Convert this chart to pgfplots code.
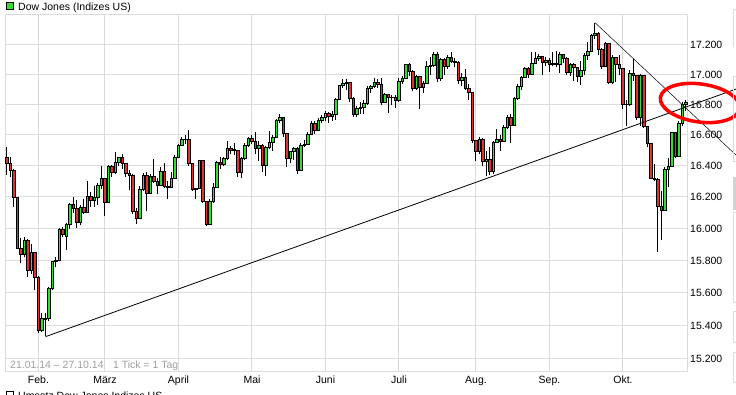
\documentclass[border=0pt]{standalone}
\usepackage{pgfplots}
\pgfplotsset{compat=1.18}
\usepackage{pgfplotstable}
\usepackage{fontspec}
\setmainfont{Liberation Sans}
\definecolor{cgreen}{RGB}{51,221,51}
\definecolor{cred}{RGB}{221,51,51}
\definecolor{gridc}{RGB}{220,220,220}
\newcommand\lblfont{\fontsize{10.5bp}{12bp}\selectfont}
\pgfplotstableread{
i o h l c
0 16458 16520 16340 16414
1 16414 16460 16330 16374
2 16374 16378 16140 16197
3 16197 16200 15875 15879
4 15879 15940 15784 15838
5 15838 15945 15820 15929
6 15929 15935 15700 15739
7 15739 15905 15720 15849
8 15849 15855 15618 15699
9 15699 15705 15356 15373
10 15373 15480 15360 15445
11 15443 15480 15340 15440
12 15443 15640 15430 15629
13 15630 15800 15620 15794
14 15794 15820 15760 15802
15 15802 16005 15795 15995
16 15995 16010 15947 15964
17 15950 16035 15865 16028
18 16028 16160 16000 16154
19 16154 16200 16100 16130
20 16130 16180 16005 16041
21 16041 16150 16020 16133
22 16133 16190 16090 16103
23 16103 16300 16100 16207
24 16207 16230 16140 16180
25 16180 16270 16140 16198
26 16198 16290 16150 16273
27 16273 16398 16250 16322
28 16322 16325 16082 16168
29 16168 16406 16168 16396
30 16396 16405 16330 16360
31 16360 16489 16350 16422
32 16422 16460 16400 16453
33 16453 16480 16380 16419
34 16419 16420 16330 16351
35 16351 16370 16248 16340
36 16340 16345 16090 16109
37 16109 16130 16030 16066
38 16066 16270 16060 16247
39 16247 16358 16240 16336
40 16336 16360 16110 16222
41 16222 16350 16220 16331
42 16331 16446 16290 16303
43 16303 16320 16220 16277
44 16277 16390 16270 16368
45 16368 16420 16260 16269
46 16269 16300 16190 16264
47 16264 16360 16260 16323
48 16323 16470 16320 16458
49 16458 16540 16450 16533
50 16533 16590 16530 16573
51 16573 16600 16540 16572
52 16573 16631 16400 16413
53 16413 16420 16240 16246
54 16246 16260 16190 16256
55 16256 16440 16250 16437
56 16437 16440 16165 16170
57 16170 16175 16015 16027
58 16027 16190 16020 16173
59 16173 16290 16165 16263
60 16263 16430 16260 16425
61 16425 16460 16380 16409
62 16409 16460 16400 16449
63 16449 16563 16440 16514
64 16514 16530 16480 16502
65 16502 16550 16470 16506
66 16502 16505 16330 16361
67 16361 16460 16320 16449
68 16449 16550 16440 16535
69 16535 16590 16520 16581
70 16581 16600 16540 16559
71 16559 16620 16480 16513
72 16513 16560 16430 16531
73 16531 16540 16360 16401
74 16401 16530 16334 16519
75 16519 16630 16510 16551
76 16551 16600 16500 16583
77 16583 16705 16580 16695
78 16695 16739 16680 16715
79 16715 16716 16590 16614
80 16614 16615 16392 16447
81 16447 16500 16420 16491
82 16491 16520 16440 16512
83 16512 16520 16348 16374
84 16374 16550 16370 16533
85 16533 16570 16520 16543
86 16543 16620 16540 16606
87 16606 16690 16600 16676
88 16676 16690 16610 16633
89 16633 16710 16630 16699
90 16699 16730 16680 16717
91 16717 16760 16690 16744
92 16744 16750 16680 16722
93 16722 16760 16690 16738
94 16738 16845 16700 16836
95 16836 16930 16830 16924
96 16924 16970 16910 16943
97 16943 16970 16900 16946
98 16946 16950 16820 16844
99 16844 16850 16720 16734
100 16734 16790 16720 16776
101 16776 16820 16740 16781
102 16781 16830 16740 16808
103 16808 16920 16800 16907
104 16907 16930 16880 16921
105 16921 16980 16910 16947
106 16947 16970 16910 16937
107 16937 16978 16800 16818
108 16818 16880 16810 16868
109 16868 16870 16744 16846
110 16846 16860 16800 16852
111 16852 16860 16780 16827
112 16827 16980 16820 16956
113 16956 16990 16940 16976
114 16976 17074 16970 17068
115 17068 17075 16990 17024
116 17024 17030 16890 16907
117 16907 17000 16900 16986
118 16986 16990 16771 16915
119 16915 16960 16880 16944
120 16944 17088 16940 17055
121 17055 17120 17000 17061
122 17061 17151 17050 17138
123 17138 17151 16950 16977
124 16977 17110 16960 17100
125 17100 17110 17000 17052
126 17052 17130 17040 17114
127 17114 17150 17080 17087
128 17087 17110 17050 17084
129 17084 17090 16940 16961
130 16961 17010 16920 16983
131 16983 17040 16900 16912
132 16912 16940 16830 16880
133 16880 16885 16550 16563
134 16563 16570 16432 16493
135 16493 16590 16480 16569
136 16569 16580 16400 16429
137 16429 16500 16333 16443
138 16443 16520 16340 16368
139 16368 16560 16350 16554
140 16554 16640 16550 16570
141 16570 16600 16500 16561
142 16561 16670 16555 16652
143 16652 16730 16640 16714
144 16714 16740 16550 16663
145 16663 16850 16660 16839
146 16839 16940 16830 16920
147 16920 16990 16900 16979
148 16979 17050 16975 17039
149 17039 17050 16980 17001
150 17001 17150 16995 17077
151 17077 17150 17070 17107
152 17107 17140 17090 17122
153 17122 17125 17000 17080
154 17080 17120 17060 17098
155 17098 17110 17020 17068
156 17068 17150 17060 17078
157 17078 17160 17050 17070
158 17070 17150 17010 17137
159 17137 17140 17080 17111
160 17111 17115 17000 17014
161 17014 17080 16990 17069
162 17069 17080 16960 17049
163 17049 17050 16950 16988
164 16988 17090 16930 17031
165 17031 17145 17000 17132
166 17132 17220 17100 17157
167 17157 17275 17150 17266
168 17266 17351 17240 17280
169 17280 17285 17130 17173
170 17173 17180 17040 17056
171 17056 17220 17050 17210
172 17210 17215 16940 16946
173 16946 17130 16940 17113
174 17113 17120 16950 17071
175 17071 17130 17000 17043
176 17043 17045 16770 16805
177 16805 16830 16660 16801
178 16801 17030 16790 17010
179 17010 17101 16960 16992
180 16992 17000 16700 16719
181 16719 17005 16660 16994
182 16994 17000 16650 16659
183 16659 16660 16520 16544
184 16544 16550 16320 16321
185 16321 16410 16300 16315
186 16315 16320 15855 16142
187 16142 16240 15930 16117
188 16117 16390 16110 16380
189 16380 16450 16266 16400
190 16400 16620 16395 16615
191 16615 16620 16450 16461
192 16461 16690 16460 16678
193 16678 16820 16660 16805
194 16805 16834 16760 16818
}\dji
\pgfplotstableread{
x y
11 15334
208.29 16903
}\trendA
\pgfplotstableread{
x y
168 17352
208.29 16470
}\trendB
\begin{document}
\begin{tikzpicture}
\begin{axis}[
  at={(5bp,23bp)}, anchor=south west,
  scale only axis, width=682bp, height=357bp,
  xmin=-0.571, xmax=194.29, ymin=9.623905, ymax=9.764339,
  clip=false,
  axis line style={draw=gridc, line width=1bp},
  grid=major, grid style={draw=gridc, line width=1bp},
  major tick length=0pt, minor tick num=0,
  xtick={9,28,49,70,91,112,134,155,176},
  xticklabels={Feb.,März,April,Mai,Juni,Juli,Aug.,Sep.,Okt.},
  % logarithmic price scale: ticks at ln(15200), ln(15400), ..., ln(17200)
  ytick={9.629051,9.642123,9.655026,9.667766,9.680344,9.692767,9.705037,9.717158,9.729134,9.740969,9.752664},
  yticklabels={15.200,15.400,15.600,15.800,16.000,16.200,16.400,16.600,16.800,17.000,17.200},
  yticklabel pos=right,
  yticklabel style={anchor=west, inner sep=0pt, xshift=3bp, font=\lblfont},
  xticklabel style={anchor=base, inner sep=0pt, yshift=-11.3bp, font=\lblfont},
]
\pgfplotsinvokeforeach{0,...,194}{
  \pgfplotstablegetelem{#1}{o}\of\dji \edef\cO{\pgfplotsretval}
  \pgfplotstablegetelem{#1}{h}\of\dji \edef\cH{\pgfplotsretval}
  \pgfplotstablegetelem{#1}{l}\of\dji \edef\cL{\pgfplotsretval}
  \pgfplotstablegetelem{#1}{c}\of\dji \edef\cC{\pgfplotsretval}
  \ifnum\cC<\cO\relax \def\ccol{cred}\else\def\ccol{cgreen}\fi
  \begingroup
    \pgfkeys{/pgf/fpu=true,/pgf/fpu/output format=fixed}%
    \pgfmathparse{ln(\cO)}\xdef\yO{\pgfmathresult}%
    \pgfmathparse{ln(\cH)}\xdef\yH{\pgfmathresult}%
    \pgfmathparse{ln(\cL)}\xdef\yL{\pgfmathresult}%
    \pgfmathparse{ln(\cC)}\xdef\yC{\pgfmathresult}%
  \endgroup
  \pgfmathsetmacro\xa{#1-0.36}%
  \pgfmathsetmacro\xb{#1+0.36}%
  \edef\temp{%
    \noexpand\addplot[black, line width=1bp, forget plot] coordinates {(#1,\yL) (#1,\yH)};
    \noexpand\addplot[draw=black, line width=0.8bp, fill=\ccol, forget plot] coordinates {(\xa,\yO) (\xb,\yO) (\xb,\yC) (\xa,\yC)} -- cycle;
  }%
  \temp
}
% trend lines
\addplot[black, line width=0.8bp, forget plot] table[x=x, y expr={ln(\thisrow{y})}] {\trendA};
\addplot[black, line width=0.5bp, forget plot] table[x=x, y expr={ln(\thisrow{y})}] {\trendB};
\end{axis}
% legend and texts
\draw[fill=cgreen, draw=black, line width=0.8bp] (6.5bp,385.5bp) rectangle (13.5bp,392.5bp);
\node[anchor=base west, inner sep=0pt, font=\lblfont] at (18bp,384.3bp) {Dow Jones (Indizes US)};
\node[anchor=base west, inner sep=0pt, font=\lblfont, text=gray!75] at (10bp,26.7bp) {21.01.14 -- 27.10.14\hspace{0.9em}1 Tick = 1 Tag};
\draw[fill=white, draw=black, line width=0.8bp] (6.5bp,-3.5bp) rectangle (13.5bp,3.5bp);
\node[anchor=base west, inner sep=0pt, font=\lblfont] at (18bp,-4.3bp) {Umsatz Dow Jones Indizes US};
% red annotation
\draw[red, line width=3.5bp, rotate around={-8:(700bp,292bp)}] (700bp,292bp) ellipse [x radius=40bp, y radius=19bp];
% side panel remnants
\draw[gridc, line width=1bp] (733.5bp,348.3bp) -- (733.5bp,385bp) -- (740bp,385bp);
\draw[gridc, line width=1bp] (740bp,318.3bp) -- (733.5bp,318.3bp) -- (733.5bp,233.3bp) -- (740bp,233.3bp);
\fill[gray!35] (733bp,185bp) rectangle (740bp,218.3bp);
\draw[gridc, line width=1bp] (740bp,182bp) -- (733.5bp,182bp) -- (733.5bp,92bp) -- (740bp,92bp);
\draw[gridc, line width=1bp] (740bp,83.3bp) -- (733.5bp,83.3bp) -- (733.5bp,52bp) -- (740bp,52bp);
\draw[gridc, line width=1bp] (740bp,42bp) -- (733.5bp,42bp) -- (733.5bp,12bp) -- (740bp,12bp);
\pgfresetboundingbox
\path[use as bounding box] (0bp,0bp) rectangle (736bp,395bp);
\end{tikzpicture}
\end{document}
